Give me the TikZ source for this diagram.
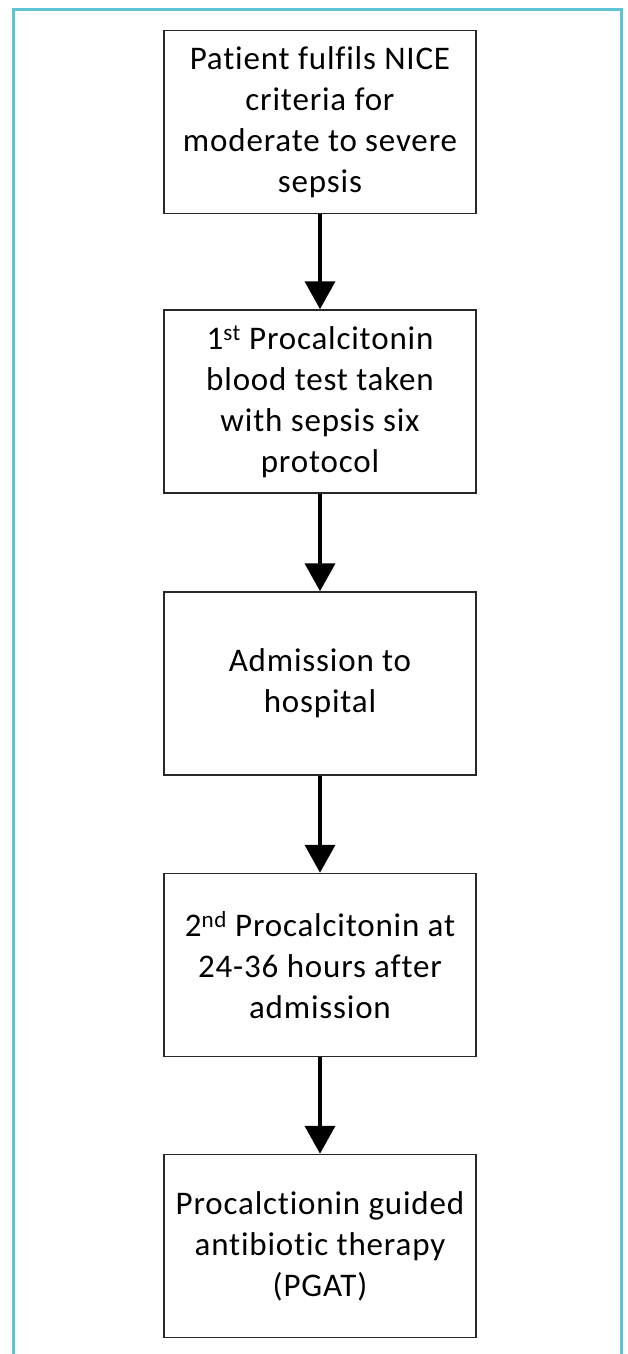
\documentclass[tikz,border=0pt]{standalone}
\usepackage{fontspec}
\setmainfont{Carlito}[LetterSpace=2.5,Ligatures=NoCommon]
\usetikzlibrary{arrows.meta}
\definecolor{framecol}{RGB}{95,195,216}
\definecolor{boxline}{RGB}{40,40,40}
\tikzset{
  flowbox/.style={draw=boxline, line width=1.5pt, minimum width=312pt, minimum height=183pt,
    inner sep=0pt, align=center, font=\fontsize{33}{41}\selectfont},
  flowarrow/.style={line width=4pt, -{Triangle[width=30pt,length=28pt]}, shorten >=0pt}
}
\begin{document}
\begin{tikzpicture}[x=1pt,y=1pt]
\useasboundingbox (0,0) rectangle (627,-1354);
\fill[white] (0,0) rectangle (627,-1354);
\draw[framecol, line width=3pt] (13.5,-1354) -- (13.5,-9.5) -- (621.5,-9.5) -- (621.5,-1354);
\node[flowbox] (b1) at (320,-122) {Patient fulfils NICE\\criteria for\\moderate to severe\\sepsis};
\node[flowbox] (b2) at (320,-401.5) {1\textsuperscript{st} Procalcitonin\\blood test taken\\with sepsis six\\protocol};
\node[flowbox] (b3) at (320,-683.5) {Admission to\\hospital};
\node[flowbox] (b4) at (320,-965) {2\textsuperscript{nd} Procalcitonin at\\24-36 hours after\\admission};
\node[flowbox] (b5) at (320,-1246) {Procalctionin guided\\antibiotic therapy\\(PGAT)};
\draw[flowarrow] (b1.south) -- (b2.north);
\draw[flowarrow] (b2.south) -- (b3.north);
\draw[flowarrow] (b3.south) -- (b4.north);
\draw[flowarrow] (b4.south) -- (b5.north);
\end{tikzpicture}
\end{document}
